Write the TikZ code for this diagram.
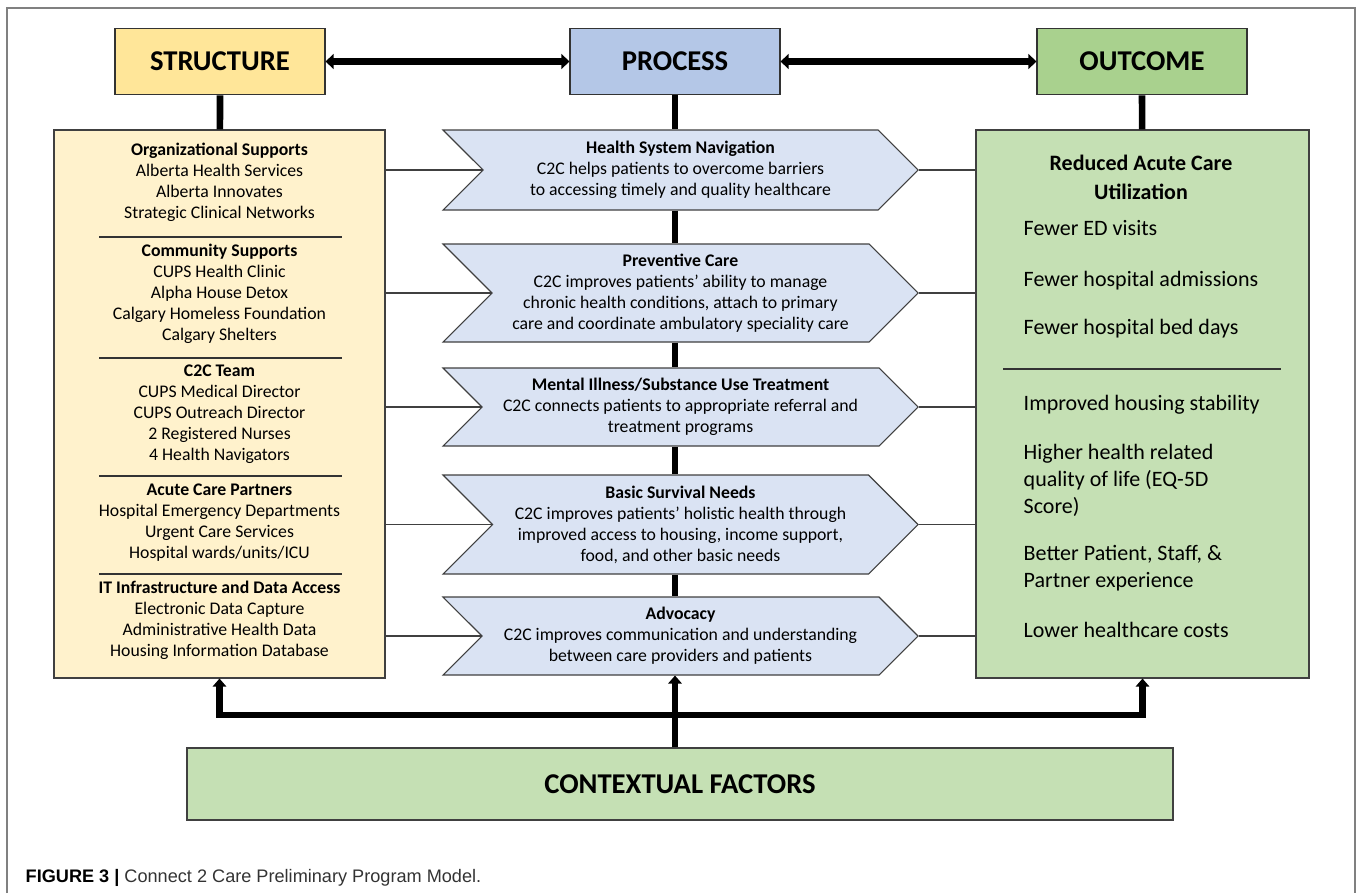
\documentclass[tikz,border=0pt]{standalone}
\usepackage{fontspec}
\setmainfont{Carlito}
\newfontfamily\capfont{Liberation Sans}
\usepackage{xcolor}
\usepackage{tikz}
\usetikzlibrary{shapes, shapes.symbols, arrows.meta, positioning}

\definecolor{strucfill}{HTML}{FFE699}
\definecolor{procfill}{HTML}{B4C7E7}
\definecolor{outfill}{HTML}{A9D18E}
\definecolor{listfill}{HTML}{FFF2CC}
\definecolor{chevfill}{HTML}{DAE3F3}
\definecolor{resfill}{HTML}{C5E0B4}

\begin{document}
\begin{tikzpicture}
  [
    x=0.75pt, y=-0.75pt,
    Head/.style={rectangle, draw=black!80, line width=0.8pt, minimum width=157.5pt, minimum height=50pt, font=\fontsize{21.5}{26}\selectfont\bfseries},
    Panel/.style={rectangle, draw=black!75, line width=0.8pt, minimum height=411pt},
    Chevron/.style={signal, signal from=west, signal to=east, signal pointer angle=90, draw=black!75, line width=0.8pt, fill=chevfill, minimum width=356.25pt, inner sep=0pt, align=center, font=\fontsize{13.3}{15.75}\selectfont},
    Item/.style={align=center, font=\fontsize{13.3}{15.75}\selectfont},
    Gain/.style={anchor=west, align=left, font=\fontsize{16.5}{20.25}\selectfont},
    Bar/.style={line width=5pt, draw=black},
    Link/.style={line width=1.1pt, draw=black!75},
    Sep/.style={line width=1pt, draw=black!80},
    UpArrow/.style={-{Triangle[length=6pt, width=10pt]}}
  ]
  \useasboundingbox (0,0) rectangle (1358,893);
  \draw[black!50, line width=1.2pt] (7,893) -- (7,8) -- (1355,8) -- (1355,893);

  % Nodes
  \node[Head, fill=strucfill] (strc) at (220, 61.5) {STRUCTURE};
  \node[Head, fill=procfill] (proc) at (675, 61.5) {PROCESS};
  \node[Head, fill=outfill] (outc) at (1142, 61.5) {OUTCOME};

  \node[Panel, fill=listfill, minimum width=248.25pt] (lst) at (219.5, 404) {};
  \node[Panel, fill=resfill, minimum width=249.75pt] (res) at (1142.5, 404) {};

  \node[Item] (org) at (219.5, 182.5) {\textbf{Organizational Supports}\\Alberta Health Services\\Alberta Innovates\\Strategic Clinical Networks};
  \node[Item] (com) at (219.5, 294) {\textbf{Community Supports}\\CUPS Health Clinic\\Alpha House Detox\\Calgary Homeless Foundation\\Calgary Shelters};
  \node[Item] (team) at (219.5, 414.5) {\textbf{C2C Team}\\CUPS Medical Director\\CUPS Outreach Director\\2 Registered Nurses\\4 Health Navigators};
  \node[Item] (acp) at (219.5, 523) {\textbf{Acute Care Partners}\\Hospital Emergency Departments\\Urgent Care Services\\Hospital wards/units/ICU};
  \node[Item] (itd) at (219.5, 620.5) {\textbf{IT Infrastructure and Data Access}\\Electronic Data Capture\\Administrative Health Data\\Housing Information Database};

  \node[Chevron, minimum height=60pt] (c1) at (680.5, 170) {\textbf{Health System Navigation}\\C2C helps patients to overcome barriers\\to accessing timely and quality healthcare};
  \node[Chevron, minimum height=73.5pt] (c2) at (680.5, 293) {\textbf{Preventive Care}\\C2C improves patients’ ability to manage\\chronic health conditions, attach to primary\\care and coordinate ambulatory speciality care};
  \node[Chevron, minimum height=58.5pt] (c3) at (680.5, 407) {\textbf{Mental Illness/Substance Use Treatment}\\C2C connects patients to appropriate referral and\\treatment programs};
  \node[Chevron, minimum height=74.25pt] (c4) at (680.5, 524.5) {\textbf{Basic Survival Needs}\\C2C improves patients’ holistic health through\\improved access to housing, income support,\\food, and other basic needs};
  \node[Chevron, minimum height=58.5pt] (c5) at (680.5, 636) {\textbf{Advocacy}\\C2C improves communication and understanding\\between care providers and patients};

  \node[align=center, font=\fontsize{16.5}{21.75}\selectfont\bfseries] (rtitle) at (1141, 177.5) {Reduced Acute Care\\Utilization};
  \node[Gain] (g1) at (1019, 228) {Fewer ED visits};
  \node[Gain] (g2) at (1019, 281) {Fewer hospital admissions};
  \node[Gain] (g3) at (1019, 329) {Fewer hospital bed days};
  \node[Gain] (g4) at (1019, 405) {Improved housing stability};
  \node[Gain] (g5) at (1019, 480) {Higher health related\\quality of life (EQ-5D\\Score)};
  \node[Gain] (g6) at (1019, 568.5) {Better Patient, Staff, \&\\Partner experience};
  \node[Gain] (g7) at (1019, 630) {Lower healthcare costs};

  \node[rectangle, draw=black!75, line width=0.8pt, fill=resfill, minimum width=739.5pt, minimum height=54pt, font=\fontsize{21.5}{26}\selectfont\bfseries] (ctx) at (680, 784) {CONTEXTUAL FACTORS};

  \node[anchor=west, font=\capfont\fontsize{13.6}{16}\selectfont] (cap) at (21, 878) {\textbf{FIGURE 3 |} \textcolor{black!80}{Connect 2 Care Preliminary Program Model.}};

  % Lines
  \draw[Bar, {Triangle[length=6pt, width=11pt]}-{Triangle[length=6pt, width=11pt]}] (strc) -- (proc);
  \draw[Bar, {Triangle[length=6pt, width=11pt]}-{Triangle[length=6pt, width=11pt]}] (proc) -- (outc);
  \draw[Bar] (strc) -- (lst);
  \draw[Bar] (outc) -- (res);
  \draw[Bar] (proc.south) -- (proc.south |- c1.north);
  \draw[Bar] (c1.south -| proc.south) -- (c2.north -| proc.south);
  \draw[Bar] (c2.south -| proc.south) -- (c3.north -| proc.south);
  \draw[Bar] (c3.south -| proc.south) -- (c4.north -| proc.south);
  \draw[Bar] (c4.south -| proc.south) -- (c5.north -| proc.south);

  \foreach \c in {c1, c2, c3, c4, c5}
  {
    \draw[Link] (lst.east |- \c.center) -- (\c.west);
    \draw[Link] (\c.east) -- (\c.east -| res.west);
  }

  \draw[Sep] (99, 237) -- (342, 237);
  \draw[Sep] (99, 358) -- (342, 358);
  \draw[Sep] (99, 476) -- (342, 476);
  \draw[Sep] (99, 574) -- (342, 574);
  \draw[Sep] (1003, 369) -- (1281, 369);

  \coordinate (jn) at (675, 715);
  \draw[Bar, UpArrow] (ctx.north -| jn) -- (c5.south -| jn);
  \draw[Bar, {Triangle[length=6pt, width=10pt]}-{Triangle[length=6pt, width=10pt]}, line join=miter] (lst.south) -- (jn -| lst.south) -- (jn -| res.south) -- (res.south);

\end{tikzpicture}
\end{document}
